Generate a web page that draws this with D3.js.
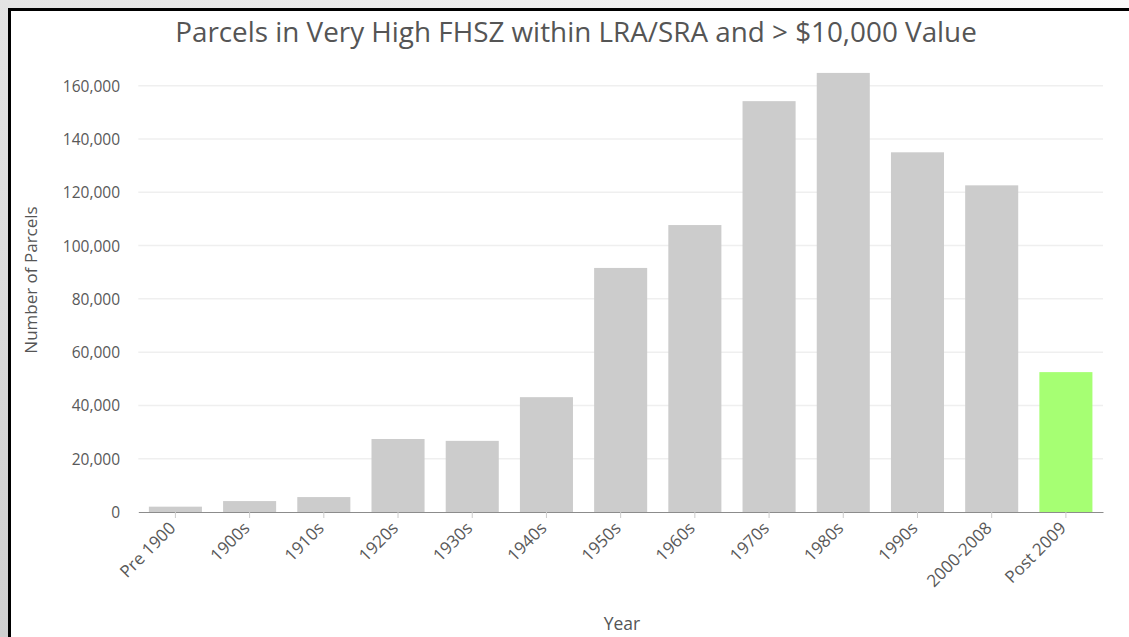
<!DOCTYPE html>
<html>
<head>
<meta charset="utf-8">
<script src="https://cdn.jsdelivr.net/npm/d3@7"></script>
<style>
  html, body { margin: 0; padding: 0; }
  body { width: 1129px; height: 637px; overflow: hidden; }
  svg { display: block; font-family: "Open Sans", "Noto Sans", sans-serif; }
</style>
</head>
<body>
<svg id="chart" width="1129" height="637"></svg>
<script>
const categories = ["Pre 1900", "1900s", "1910s", "1920s", "1930s", "1940s", "1950s", "1960s", "1970s", "1980s", "1990s", "2000-2008", "Post 2009"];
const parcelCounts = [2000, 4100, 5600, 27400, 26700, 43100, 91600, 107700, 154200, 164800, 135000, 122600, 52500];
const highlighted = ["Post 2009"];
const yTicks = [0, 20000, 40000, 60000, 80000, 100000, 120000, 140000, 160000];
const chartTitle = "Parcels in Very High FHSZ within LRA/SRA and > $10,000 Value";
const yTitle = "Number of Parcels";
const xTitle = "Year";

const svg = d3.select("#chart");
const W = 1129, H = 637;
const FONT = '"Open Sans", "Noto Sans", sans-serif';

// outer gradient background and frame
const defs = svg.append("defs");
const grad = defs.append("linearGradient").attr("id", "bgGrad")
  .attr("x1", "0%").attr("y1", "100%").attr("x2", "100%").attr("y2", "0%");
grad.append("stop").attr("offset", "0%").attr("stop-color", "#cfcfcf");
grad.append("stop").attr("offset", "55%").attr("stop-color", "#e6e6e6");
grad.append("stop").attr("offset", "100%").attr("stop-color", "#fafafa");
svg.append("rect").attr("width", W).attr("height", H).attr("fill", "url(#bgGrad)");
svg.append("rect").attr("x", 9.5).attr("y", 9.5).attr("width", W).attr("height", H)
  .attr("fill", "#ffffff").attr("stroke", "#000").attr("stroke-width", 3);

const plotLeft = 138.3, plotRight = 1103, baseY = 512;
const x = d3.scaleBand().domain(categories).range([plotLeft, plotRight])
  .paddingInner(0.285).paddingOuter(0.1425);
const y = d3.scaleLinear().domain([0, 160000]).range([baseY, 85.7]);

// gridlines
svg.append("g").selectAll("line").data(yTicks.filter(d => d > 0)).join("line")
  .attr("x1", plotLeft).attr("x2", plotRight)
  .attr("y1", d => y(d)).attr("y2", d => y(d))
  .attr("stroke", "#efefef").attr("stroke-width", 1.5);

// bars
svg.append("g").selectAll("rect").data(categories).join("rect")
  .attr("x", d => x(d))
  .attr("y", (d, i) => y(parcelCounts[i]))
  .attr("width", x.bandwidth())
  .attr("height", (d, i) => baseY - y(parcelCounts[i]))
  .attr("fill", d => highlighted.includes(d) ? "#a6ff73" : "#cccccc");

// y axis
const yAxis = d3.axisLeft(y).tickValues(yTicks).tickFormat(d3.format(",")).tickSize(0).tickPadding(0);
const yg = svg.append("g").attr("transform", `translate(120,0)`).call(yAxis)
  .attr("font-family", FONT).attr("font-size", 15.5);
yg.select(".domain").remove();
yg.selectAll("text").attr("fill", "#595959").attr("x", 0).attr("dy", "0.35em");

// x axis
const xAxis = d3.axisBottom(x).tickSize(6).tickSizeOuter(0).tickPadding(4);
const xg = svg.append("g").attr("transform", `translate(0,${baseY})`).call(xAxis)
  .attr("font-family", FONT).attr("font-size", 17);
xg.select(".domain").attr("stroke", "#8c8c8c");
xg.selectAll(".tick line").attr("stroke", "#cccccc");
xg.selectAll("text")
  .attr("fill", "#595959")
  .attr("text-anchor", "end")
  .attr("transform", "translate(-3,13) rotate(-45)")
  .attr("x", 0).attr("y", 0).attr("dy", "0.35em");

// title
const t = svg.append("text").attr("x", 576).attr("y", 42)
  .attr("text-anchor", "middle").attr("fill", "#555555")
  .style("font-size", "26px").text(chartTitle);
const tw = t.node().getComputedTextLength();
t.style("font-size", (26 * 802 / tw) + "px");

// axis titles
svg.append("text").attr("transform", "translate(37,280) rotate(-90)")
  .attr("text-anchor", "middle").attr("fill", "#555555")
  .style("font-size", "17px").text(yTitle);
svg.append("text").attr("x", 622).attr("y", 630)
  .attr("text-anchor", "middle").attr("fill", "#555555")
  .style("font-size", "17.5px").text(xTitle);
</script>
</body>
</html>
